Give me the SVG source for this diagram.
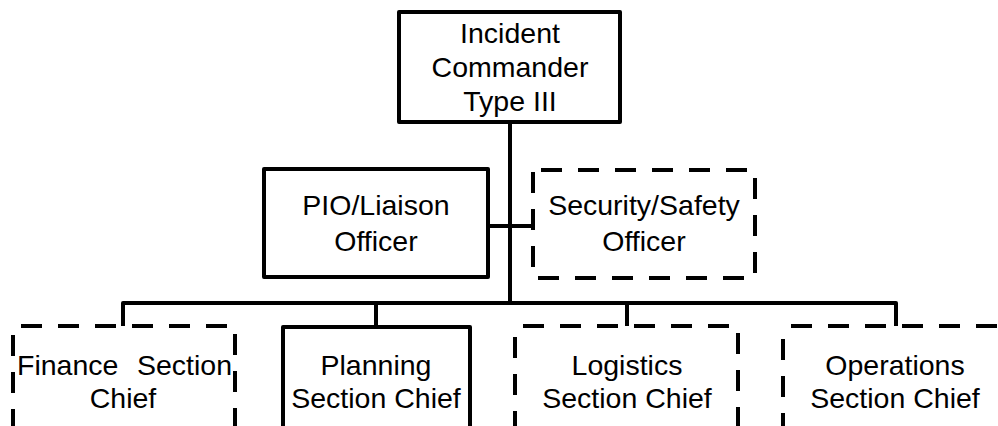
<svg xmlns="http://www.w3.org/2000/svg" width="998" height="426" viewBox="0 0 998 426">
<style>
.box{fill:#fff;stroke:#000;stroke-width:4;stroke-linejoin:round}
.dash{fill:#fff;stroke:#000;stroke-width:4;stroke-dasharray:21 16}
.conn{fill:none;stroke:#000;stroke-width:4;stroke-linejoin:round}
text{font-family:"Liberation Sans",Arial,sans-serif;font-size:28.5px;fill:#000;text-anchor:middle}
</style>
<rect width="998" height="426" fill="#fff"/>
<g id="connectors">
<line class="conn" x1="510" y1="122" x2="510" y2="303"/>
<line class="conn" x1="488" y1="226" x2="533" y2="226"/>
<polyline class="conn" points="123,326 123,303 896,303 896,326"/>
<line class="conn" x1="376" y1="303" x2="376" y2="327"/>
<line class="conn" x1="627" y1="303" x2="627" y2="326"/>
</g>
<g id="incident-commander">
<rect class="box" x="399" y="12" width="221" height="110"/>
<text x="510" y="43">Incident</text>
<text x="510" y="77">Commander</text>
<text x="510" y="111">Type III</text>
</g>
<g id="pio-liaison">
<rect class="box" x="264" y="169" width="224" height="108"/>
<text x="376" y="215">PIO/Liaison</text>
<text x="376" y="251">Officer</text>
</g>
<g id="security-safety">
<rect class="dash" x="533" y="170" width="222" height="108" stroke-dashoffset="-8"/>
<text x="644" y="215">Security/Safety</text>
<text x="644" y="251">Officer</text>
</g>
<g id="finance">
<rect class="dash" x="13" y="326" width="222" height="130" stroke-dashoffset="-8"/>
<text x="17" y="375" style="text-anchor:start">Finance<tspan x="232" style="text-anchor:end">Section</tspan></text>
<text x="123" y="408">Chief</text>
</g>
<g id="planning">
<rect class="box" x="283" y="327" width="187" height="130"/>
<text x="376" y="375">Planning</text>
<text x="376" y="408">Section Chief</text>
</g>
<g id="logistics">
<rect class="dash" x="515" y="326" width="223" height="130" stroke-dashoffset="-8"/>
<text x="627" y="375">Logistics</text>
<text x="627" y="408">Section Chief</text>
</g>
<g id="operations">
<rect class="dash" x="783" y="326" width="224" height="130" stroke-dashoffset="-8"/>
<text x="895" y="375">Operations</text>
<text x="895" y="408">Section Chief</text>
</g>
</svg>
